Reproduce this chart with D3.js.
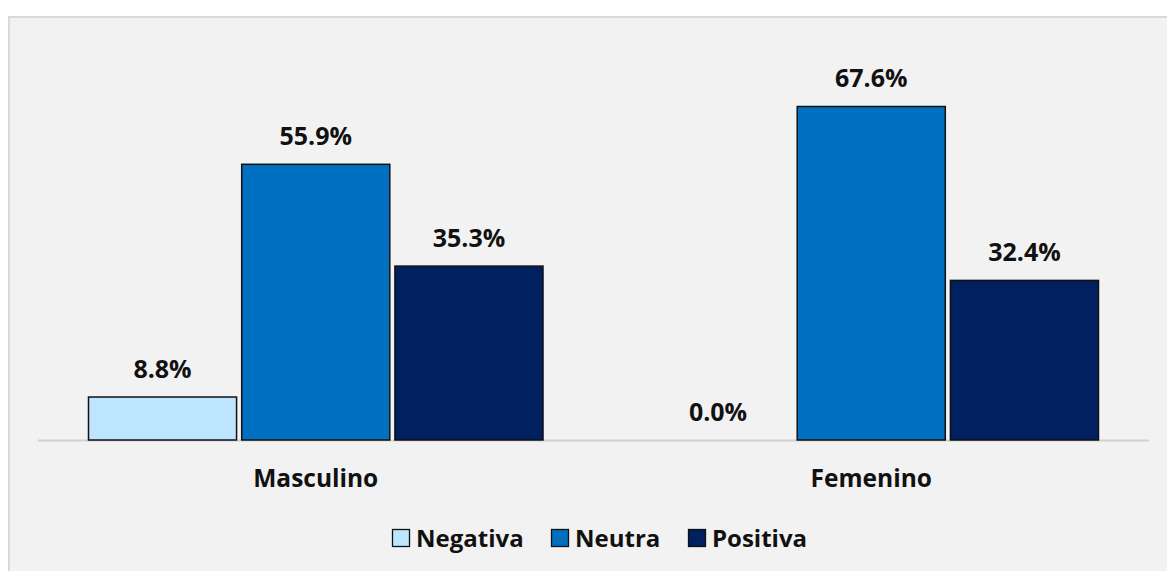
<!DOCTYPE html>
<html><head><meta charset="utf-8">
<script src="https://cdn.jsdelivr.net/npm/d3@7"></script>
<style>body{margin:0;background:#fff;} svg{display:block;}</style>
</head><body>
<svg id="c" width="1167" height="571"></svg>
<script>
const categories = ["Masculino", "Femenino"];
const series = ["Negativa", "Neutra", "Positiva"];
const negativa = [8.8, 0.0];
const neutra = [55.9, 67.6];
const positiva = [35.3, 32.4];
const colors = ["#bde5fd", "#0070c0", "#002060"];

const values = [negativa, neutra, positiva];
const svg = d3.select("#c");
const font = "'Open Sans', sans-serif";

svg.append("rect").attr("x", 9).attr("y", 17).attr("width", 1170).attr("height", 570)
  .attr("fill", "#f2f2f2").attr("stroke", "#d9d9d9").attr("stroke-width", 2);

const left = 38, right = 1149, base = 440;
const x0 = d3.scaleBand().domain(categories).range([left, right]).paddingInner(0).paddingOuter(0);
const x1 = d3.scaleBand().domain(series).range([50, x0.bandwidth() - 50]).paddingInner(0.027);
const y = d3.scaleLinear().domain([0, 67.6]).range([base, 106]);

svg.append("line").attr("x1", left).attr("x2", right).attr("y1", base + 0.5).attr("y2", base + 0.5)
  .attr("stroke", "#d0d0d0").attr("stroke-width", 2);

categories.forEach((cat, ci) => {
  const g = svg.append("g").attr("transform", `translate(${x0(cat)},0)`);
  series.forEach((s, si) => {
    const v = values[si][ci];
    const bx = x1(s), bw = x1.bandwidth();
    if (v > 0) {
      g.append("rect").attr("x", bx + 0.5).attr("y", y(v) + 0.5)
        .attr("width", bw - 1).attr("height", base - y(v) - 0.5)
        .attr("fill", colors[si]).attr("stroke", "#111").attr("stroke-width", 1.5);
    }
    g.append("text").attr("x", bx + bw / 2).attr("y", y(v) - 19)
      .attr("text-anchor", "middle").attr("font-family", font).attr("font-weight", "bold")
      .attr("font-size", 25).attr("fill", "#111").text(v.toFixed(1) + "%");
  });
  svg.append("text").attr("x", x0(cat) + x0.bandwidth() / 2).attr("y", 487)
    .attr("text-anchor", "middle").attr("font-family", font).attr("font-weight", "bold")
    .attr("font-size", 24.5).attr("fill", "#111").text(cat);
});

const legendX = [392, 551, 688];
series.forEach((s, si) => {
  svg.append("rect").attr("x", legendX[si] + 0.5).attr("y", 529.5).attr("width", 17).attr("height", 17)
    .attr("fill", colors[si]).attr("stroke", "#111").attr("stroke-width", 1.3);
  svg.append("text").attr("x", legendX[si] + 24).attr("y", 547)
    .attr("font-family", font).attr("font-weight", "bold").attr("font-size", 24)
    .attr("fill", "#111").text(s);
});
</script>
</body></html>
